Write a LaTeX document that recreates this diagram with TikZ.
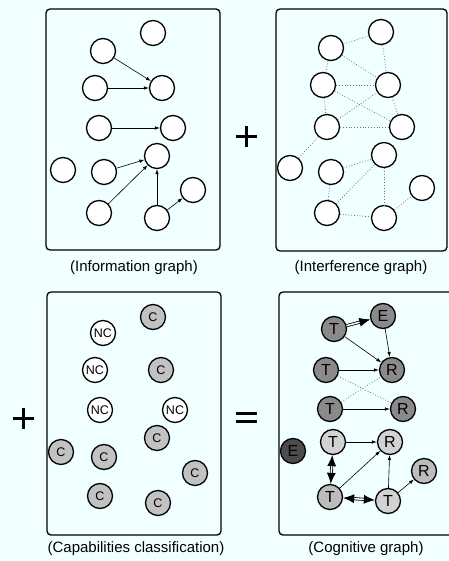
\documentclass[tikz,border=0pt]{standalone}
\usepackage{fontspec}
\setmainfont{Liberation Sans}
\usetikzlibrary{arrows.meta}
\definecolor{bg}{HTML}{F0FFFF}
\definecolor{gC}{HTML}{C2C2C2}
\definecolor{gdark}{HTML}{8A8A8A}
\definecolor{gvdark}{HTML}{4C4C4C}
\definecolor{glight}{HTML}{D2D2D2}
\definecolor{gmid}{HTML}{BCBCBC}
\definecolor{dotc}{HTML}{707070}
\begin{document}
\begin{tikzpicture}[x=1pt,y=-1pt,
  panel/.style={draw=black, line width=1.3pt, rounded corners=4pt, fill=bg},
  nd/.style={circle, draw=black, line width=1.3pt, fill=white, minimum size=25pt, inner sep=0pt, font=\fontsize{16}{16}\selectfont},
  sm/.style={nd, font=\fontsize{12.5}{12.5}\selectfont},
  lbl/.style={font=\fontsize{15}{15}\selectfont, inner sep=0pt},
  arr/.style={line width=0.6pt, -{Latex[length=5pt,width=3.5pt]}},
  dbl/.style={double, double distance=1.5pt, line width=0.8pt, -{Latex[length=11pt,width=9pt]}},
  dbl2/.style={double, double distance=1.5pt, line width=0.8pt, {Latex[length=11pt,width=9pt]}-{Latex[length=11pt,width=9pt]}},
  dotl/.style={dotted, draw=dotc, line width=0.8pt},
  sign/.style={line width=3pt}
]
\fill[bg] (0,0) rectangle (448,561);
\useasboundingbox (0,0) rectangle (448,561);

% panels
\draw[panel] (46,9) rectangle (220,250);
\draw[panel] (276,9) rectangle (447,251);
\draw[panel] (47,292) rectangle (221,535);
\draw[panel] (279,292) rectangle (455,535);

% labels
\node[lbl] (l1) at (134,268) {(Information graph)};
\node[lbl] (l2) at (361,268) {(Interference graph)};
\node[lbl] (l3) at (136,549) {(Capabilities classification)};
\node[lbl] (l4) at (366,549) {(Cognitive graph)};

% signs
\draw[sign] (235.5,137) -- (256.5,137);
\draw[sign] (246,126.5) -- (246,147.5);
\draw[sign] (12.5,418) -- (33.5,418);
\draw[sign] (23,407.5) -- (23,428.5);
\draw[sign] (235.5,413.5) -- (256.5,413.5);
\draw[sign] (235.5,421.5) -- (256.5,421.5);

% panel 1: information graph
\node[nd] (p1) at (103,51) {};
\node[nd] (p2) at (153,33) {};
\node[nd] (p3) at (95,88) {};
\node[nd] (p4) at (162,88) {};
\node[nd] (p5) at (99,128) {};
\node[nd] (p6) at (173,128) {};
\node[nd] (p7) at (157,156) {};
\node[nd] (p8) at (63,170) {};
\node[nd] (p9) at (104,172) {};
\node[nd] (p10) at (99,213) {};
\node[nd] (p11) at (157,218) {};
\node[nd] (p12) at (193,190) {};
\draw[arr] (p1) -- (p4);
\draw[arr] (p3) -- (p4);
\draw[arr] (p5) -- (p6);
\draw[arr] (p9) -- (p7);
\draw[arr] (p10) -- (p7);
\draw[arr] (p11) -- (p7);
\draw[arr] (p11) -- (p12);

% panel 2: interference graph
\node[nd] (qa) at (381,32) {};
\node[nd] (qb) at (331,48) {};
\node[nd] (qc) at (323,85) {};
\node[nd] (qd) at (388,85) {};
\node[nd] (qe) at (327,127) {};
\node[nd] (qf) at (402,127) {};
\node[nd] (qg) at (384,155) {};
\node[nd] (qh) at (290,168) {};
\node[nd] (qi) at (331,172) {};
\node[nd] (qj) at (422,188) {};
\node[nd] (qk) at (327,213) {};
\node[nd] (ql) at (384,218) {};
\draw[dotl] (qb) -- (qa);
\draw[dotl] (qb) -- (qd);
\draw[dotl] (qb) -- (qc);
\draw[dotl] (qa) -- (qd);
\draw[dotl] (qc) -- (qd);
\draw[dotl] (qc) -- (qf);
\draw[dotl] (qc) -- (qe);
\draw[dotl] (qe) -- (qd);
\draw[dotl] (qd) -- (qf);
\draw[dotl] (qe) -- (qf);
\draw[dotl] (qe) -- (qh);
\draw[dotl] (qi) -- (qg);
\draw[dotl] (qk) -- (qg);
\draw[dotl] (qi) -- (qk);
\draw[dotl] (qg) -- (ql);
\draw[dotl] (qk) -- (ql);
\draw[dotl] (ql) -- (qj);

% panel 3: capabilities classification
\node[sm, fill=gC] (c1) at (153,317) {C};
\node[sm] (c2) at (103,333) {NC};
\node[sm] (c3) at (95,370) {NC};
\node[sm, fill=gC] (c4) at (161,370) {C};
\node[sm] (c5) at (100,410) {NC};
\node[sm] (c6) at (175,410) {NC};
\node[sm, fill=gC] (c7) at (157,438) {C};
\node[sm, fill=gC] (c8) at (61,452) {C};
\node[sm, fill=gC] (c9) at (104,457) {C};
\node[sm, fill=gC] (c10) at (195,473) {C};
\node[sm, fill=gC] (c11) at (100,496) {C};
\node[sm, fill=gC] (c12) at (158,503) {C};

% panel 4: cognitive graph
\node[nd, fill=gdark] (t1) at (334,329) {T};
\node[nd, fill=gdark] (e1) at (383,316) {E};
\node[nd, fill=gdark] (t2) at (326,370) {T};
\node[nd, fill=gdark] (r1) at (392,370) {R};
\node[nd, fill=gdark] (t3) at (330,409) {T};
\node[nd, fill=gdark] (r2) at (403,409) {R};
\node[nd, fill=gvdark] (e2) at (293,451) {E};
\node[nd, fill=glight] (t4) at (333,442) {T};
\node[nd, fill=glight] (r3) at (390,442) {R};
\node[nd, fill=gmid] (r4) at (424,471) {R};
\node[nd, fill=gmid] (t5) at (330,497) {T};
\node[nd, fill=glight] (t6) at (388,501) {T};
\draw[dbl] (t1) -- (e1);
\draw[arr] (t1) -- (r1);
\draw[arr] (e1) -- (r1);
\draw[arr] (t2) -- (r1);
\draw[arr] (t3) -- (r2);
\draw[dotl] (t2) -- (r2);
\draw[dotl] (t3) -- (r1);
\draw[arr] (t4) -- (r3);
\draw[dbl2] (t4) -- (t5);
\draw[arr] (t5) -- (r3);
\draw[dbl2] (t5) -- (t6);
\draw[arr] (t6) -- (r3);
\draw[arr] (t6) -- (r4);
\end{tikzpicture}
\end{document}
